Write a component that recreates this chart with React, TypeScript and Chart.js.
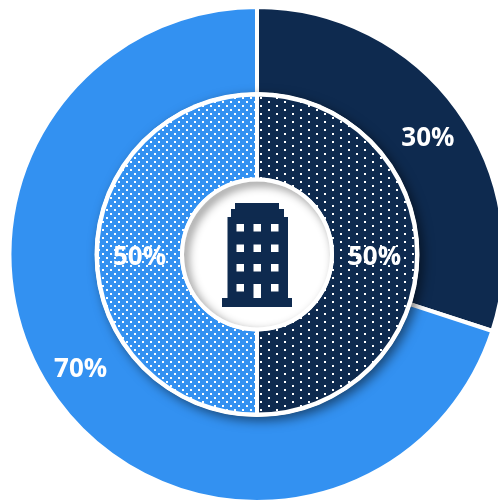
import React, { useEffect, useRef } from "react";
import { Chart, registerables } from "chart.js";

Chart.register(...registerables);

// Ring values, in percent, clockwise from twelve o'clock.
const outerCategories = ["Segment A", "Segment B"];
const outerValues = [30, 70];
const innerCategories = ["Segment A", "Segment B"];
const innerValues = [50, 50];

const NAVY = "#0E2A4F";
const BLUE = "#3391F1";
const WHITE = "#FFFFFF";

const FULL_RADIUS = 247.5;
const RING_EDGE = 160;
const HOLE_EDGE = 75;
const OUTER_WEIGHT = FULL_RADIUS - RING_EDGE;
const INNER_WEIGHT = RING_EDGE - HOLE_EDGE;

// Small label shifts away from the arc midpoints: [dx, dy] per arc.
const outerLabelShift = [[6, 3.5], [-11.5, -5]];
const innerLabelShift = [[0, 3], [0, 3]];

// Dotted fill on a repeating tile; dots are [x, y] inside the tile.
function dotPattern(base: string, w: number, h: number, dots: number[][]) {
  const tile = document.createElement("canvas");
  tile.width = w;
  tile.height = h;
  const c = tile.getContext("2d")!;
  c.fillStyle = base;
  c.fillRect(0, 0, w, h);
  c.fillStyle = WHITE;
  dots.forEach(([x, y]) => c.fillRect(x, y, 2, 2));
  return c.createPattern(tile, "repeat")!;
}

// Office block icon, as rectangles relative to the centre of the rings.
function drawBuilding(ctx: CanvasRenderingContext2D, cx: number, cy: number) {
  const block = (x0: number, y0: number, x1: number, y1: number) =>
    ctx.fillRect(cx + x0, cy + y0, x1 - x0, y1 - y0);
  ctx.fillStyle = NAVY;
  block(-35, 43.5, 35, 52.5);
  block(-29.5, -37.5, 31, 44);
  block(-26, -45.5, 27, -37);
  block(-22, -51.5, 22, -45);
  ctx.fillStyle = WHITE;
  const columns = [-20.5, -3.5, 14];
  const rows = [-30.5, -10, 9.5, 29.5];
  rows.forEach((y) => columns.forEach((x, i) => {
    if (y === rows[3] && i === 1) return;
    block(x, y, x + 7.5, y + 7.5);
  }));
  block(-3.5, 29.5, 4, 43.5);
}

const ringDecor = {
  id: "ringDecor",
  beforeDatasetDraw(chart: any, args: any) {
    if (args.index !== 1) return;
    const arc = chart.getDatasetMeta(1).data[0];
    const { ctx } = chart;
    // Drop shadow the inner ring casts onto the outer ring.
    ctx.save();
    ctx.shadowColor = "rgba(0,0,0,0.5)";
    ctx.shadowBlur = 11;
    ctx.shadowOffsetX = 4;
    ctx.shadowOffsetY = 4;
    ctx.fillStyle = WHITE;
    ctx.beginPath();
    ctx.arc(arc.x, arc.y, RING_EDGE + 2.5, 0, Math.PI * 2);
    ctx.fill();
    ctx.restore();
  },
  afterDatasetsDraw(chart: any) {
    const { ctx } = chart;
    const arc = chart.getDatasetMeta(1).data[0];
    const cx = arc.x;
    const cy = arc.y;
    const hole = HOLE_EDGE - 2;

    // White well with an inset shadow along its upper left.
    ctx.save();
    ctx.fillStyle = WHITE;
    ctx.beginPath();
    ctx.arc(cx, cy, HOLE_EDGE + 2, 0, Math.PI * 2);
    ctx.fill();
    ctx.beginPath();
    ctx.arc(cx, cy, hole, 0, Math.PI * 2);
    ctx.clip();
    ctx.shadowColor = "rgba(0,0,0,0.45)";
    ctx.shadowBlur = 10;
    ctx.shadowOffsetX = 4;
    ctx.shadowOffsetY = 4;
    ctx.strokeStyle = WHITE;
    ctx.lineWidth = 8;
    ctx.beginPath();
    ctx.arc(cx, cy, hole + 4, 0, Math.PI * 2);
    ctx.stroke();
    ctx.restore();

    drawBuilding(ctx, cx, cy);

    // Percent labels, taken from the ring values.
    ctx.save();
    ctx.font = "bold 26px 'Open Sans'";
    ctx.fillStyle = WHITE;
    ctx.textAlign = "center";
    ctx.textBaseline = "middle";
    const layers = [
      { values: outerValues, shift: outerLabelShift, meta: chart.getDatasetMeta(0) },
      { values: innerValues, shift: innerLabelShift, meta: chart.getDatasetMeta(1) },
    ];
    layers.forEach(({ values, shift, meta }) => {
      values.forEach((v, i) => {
        const p = meta.data[i].tooltipPosition();
        ctx.fillText(`${v}%`, p.x + shift[i][0], p.y + shift[i][1]);
      });
    });
    ctx.restore();
  },
};

export default function App() {
  const ref = useRef<HTMLCanvasElement>(null);

  useEffect(() => {
    const navyDots = dotPattern(NAVY, 16, 8, [[12, 5], [4, 1]]);
    const blueDots = dotPattern(BLUE, 8, 8, [[6, 5], [2, 1]]);
    const chart = new Chart(ref.current!, {
      type: "doughnut",
      data: {
        labels: outerCategories,
        datasets: [
          {
            label: "Outer",
            data: outerValues,
            backgroundColor: [NAVY, BLUE],
            borderColor: WHITE,
            borderWidth: 4,
            weight: OUTER_WEIGHT,
            order: 1,
          },
          {
            label: "Inner",
            data: innerValues,
            backgroundColor: [navyDots, blueDots],
            borderColor: WHITE,
            borderWidth: 4,
            weight: INNER_WEIGHT,
            order: 0,
          },
        ],
      } as any,
      options: {
        animation: false,
        responsive: false,
        cutout: `${(HOLE_EDGE / FULL_RADIUS) * 100}%`,
        layout: { padding: 5 },
        plugins: { legend: { display: false }, tooltip: { enabled: false } },
      } as any,
      plugins: [ringDecor],
    });
    return () => chart.destroy();
  }, []);

  return (
    <div style={{ position: "fixed", left: 0, top: 0, width: 498, height: 501, overflow: "hidden", background: WHITE }}>
      <canvas ref={ref} width={514} height={509} style={{ display: "block" }} aria-label={innerCategories.join(", ")} />
    </div>
  );
}
